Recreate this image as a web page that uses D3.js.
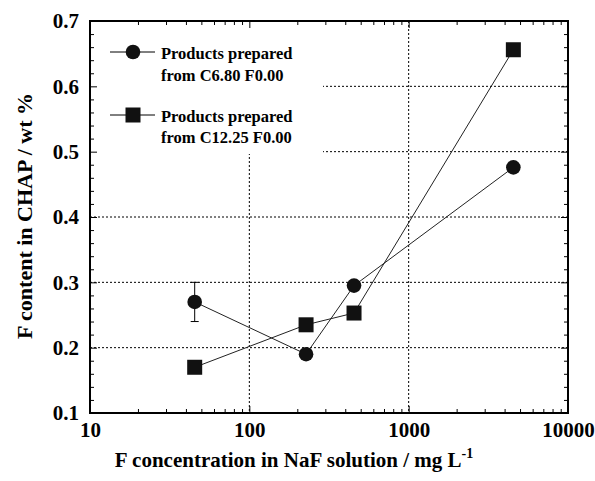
<!DOCTYPE html>
<html>
<head>
<meta charset="utf-8">
<script src="https://cdn.jsdelivr.net/npm/d3@7"></script>
<style>
  body { margin: 0; background: #fff; }
  svg { font-family: "Liberation Serif", "Times New Roman", serif; font-weight: bold; }
</style>
</head>
<body>
<div id="chart"></div>
<script>
// values
var concentrations = [45.4, 227, 454, 4540];
var seriesC680 = [0.27, 0.19, 0.295, 0.476];
var errC680 = [0.03, 0, 0, 0];
var seriesC1225 = [0.17, 0.235, 0.253, 0.656];
var xTicks = [10, 100, 1000, 10000];
var yTicks = [0.1, 0.2, 0.3, 0.4, 0.5, 0.6, 0.7];

var width = 595, height = 481;
var margin = {top: 21, right: 27, bottom: 68, left: 90};
var w = width - margin.left - margin.right,
    h = height - margin.top - margin.bottom;

var svg = d3.select("#chart").append("svg")
    .attr("width", width)
    .attr("height", height);

var g = svg.append("g")
    .attr("transform", "translate(" + margin.left + "," + margin.top + ")");

var xScale = d3.scaleLog().domain([10, 10000]).range([0, w]),
    yScale = d3.scaleLinear().domain([0.1, 0.7]).range([h, 0]);

// minor ticks
var xMinor = [];
[10, 100, 1000].forEach(function(d) {
  for (var k = 2; k <= 9; k++) xMinor.push(d * k);
});
var yMinor = d3.range(0.12, 0.7, 0.02).filter(function(v) {
  return Math.abs(v * 10 - Math.round(v * 10)) > 0.01;
});

// grid lines (dotted)
var grid = g.append("g").attr("class", "grid");
grid.selectAll(".gx")
    .data(xTicks.slice(1, -1))
  .enter().append("line")
    .attr("x1", function(d) { return xScale(d); })
    .attr("x2", function(d) { return xScale(d); })
    .attr("y1", 0).attr("y2", h)
    .attr("stroke", "#000").attr("stroke-width", 1)
    .attr("stroke-dasharray", "2,2");
grid.selectAll(".gy")
    .data(yTicks.slice(1, -1))
  .enter().append("line")
    .attr("x1", 0).attr("x2", w)
    .attr("y1", function(d) { return yScale(d); })
    .attr("y2", function(d) { return yScale(d); })
    .attr("stroke", "#000").attr("stroke-width", 1)
    .attr("stroke-dasharray", "2,2");

// legend background hides the grid
g.append("rect")
    .attr("x", 1).attr("y", 1)
    .attr("width", 232).attr("height", 132)
    .attr("fill", "#fff");

// axes
var xAxis = d3.axisBottom(xScale).tickValues(xTicks).tickSize(-7).tickFormat(d3.format("d")).tickPadding(9);
var yAxis = d3.axisLeft(yScale).tickValues(yTicks).tickSize(-7).tickFormat(d3.format(".1f")).tickPadding(11);

function styleAxis(sel) {
  sel.select(".domain").remove();
  sel.selectAll("line").attr("stroke", "#000").attr("stroke-width", 1);
  sel.selectAll("text").attr("font-size", 21).attr("font-weight", "bold")
     .attr("font-family", "Liberation Serif, Times New Roman, serif").attr("fill", "#000");
}

g.append("g").attr("transform", "translate(0," + h + ")").call(xAxis).call(styleAxis);
g.append("g").call(yAxis).call(styleAxis);
g.append("g").call(d3.axisTop(xScale).tickValues(xTicks).tickSize(-7).tickFormat("")).call(styleAxis);
g.append("g").attr("transform", "translate(" + w + ",0)")
    .call(d3.axisRight(yScale).tickValues(yTicks).tickSize(-7).tickFormat("")).call(styleAxis);

// minor ticks on all four sides
g.append("g").attr("transform", "translate(0," + h + ")")
    .call(d3.axisBottom(xScale).tickValues(xMinor).tickSize(-4).tickFormat("")).call(styleAxis);
g.append("g")
    .call(d3.axisTop(xScale).tickValues(xMinor).tickSize(-4).tickFormat("")).call(styleAxis);
g.append("g")
    .call(d3.axisLeft(yScale).tickValues(yMinor).tickSize(-4).tickFormat("")).call(styleAxis);
g.append("g").attr("transform", "translate(" + w + ",0)")
    .call(d3.axisRight(yScale).tickValues(yMinor).tickSize(-4).tickFormat("")).call(styleAxis);

// frame
g.append("rect")
    .attr("width", w).attr("height", h)
    .attr("fill", "none").attr("stroke", "#000").attr("stroke-width", 2);

// data
var dataC680 = concentrations.map(function(c, i) { return {x: c, y: seriesC680[i], e: errC680[i]}; });
var dataC1225 = concentrations.map(function(c, i) { return {x: c, y: seriesC1225[i]}; });

var line = d3.line()
    .x(function(d) { return xScale(d.x); })
    .y(function(d) { return yScale(d.y); });

g.append("path").datum(dataC680).attr("d", line)
    .attr("fill", "none").attr("stroke", "#222").attr("stroke-width", 1);
g.append("path").datum(dataC1225).attr("d", line)
    .attr("fill", "none").attr("stroke", "#222").attr("stroke-width", 1);

// error bars
var eb = g.selectAll(".err")
    .data(dataC680.filter(function(d) { return d.e > 0; }))
  .enter().append("g");
eb.append("line")
    .attr("x1", function(d) { return xScale(d.x); })
    .attr("x2", function(d) { return xScale(d.x); })
    .attr("y1", function(d) { return yScale(d.y - d.e); })
    .attr("y2", function(d) { return yScale(d.y + d.e); })
    .attr("stroke", "#000");
[-1, 1].forEach(function(s) {
  eb.append("line")
    .attr("x1", function(d) { return xScale(d.x) - 4; })
    .attr("x2", function(d) { return xScale(d.x) + 4; })
    .attr("y1", function(d) { return yScale(d.y + s * d.e); })
    .attr("y2", function(d) { return yScale(d.y + s * d.e); })
    .attr("stroke", "#000");
});

g.selectAll(".dot")
    .data(dataC680)
  .enter().append("circle")
    .attr("cx", function(d) { return xScale(d.x); })
    .attr("cy", function(d) { return yScale(d.y); })
    .attr("r", 7.3)
    .attr("fill", "#111");

var sq = 15;
g.selectAll(".sq")
    .data(dataC1225)
  .enter().append("rect")
    .attr("x", function(d) { return xScale(d.x) - sq / 2; })
    .attr("y", function(d) { return yScale(d.y) - sq / 2; })
    .attr("width", sq).attr("height", sq)
    .attr("fill", "#111");

// legend
var legend = g.append("g").attr("transform", "translate(20,31)");
legend.append("line").attr("x1", 0).attr("x2", 45).attr("y1", 0).attr("y2", 0).attr("stroke", "#000");
legend.append("circle").attr("cx", 23).attr("cy", 0).attr("r", 7.3).attr("fill", "#111");
legend.append("text").attr("x", 51).attr("y", 7).attr("font-size", 16.5).text("Products prepared");
legend.append("text").attr("x", 51).attr("y", 29).attr("font-size", 16.5).text("from C6.80 F0.00");

legend.append("line").attr("x1", 0).attr("x2", 45).attr("y1", 63).attr("y2", 63).attr("stroke", "#000");
legend.append("rect").attr("x", 23 - sq / 2).attr("y", 63 - sq / 2).attr("width", sq).attr("height", sq).attr("fill", "#111");
legend.append("text").attr("x", 51).attr("y", 70).attr("font-size", 16.5).text("Products prepared");
legend.append("text").attr("x", 51).attr("y", 91).attr("font-size", 16.5).text("from C12.25 F0.00");

// axis titles
var xt = svg.append("text")
    .attr("x", 294).attr("y", 467)
    .attr("text-anchor", "middle").attr("font-size", 21);
xt.append("tspan").text("F concentration in NaF solution / mg L");
xt.append("tspan").attr("font-size", 14).attr("dy", -9).text("-1");

svg.append("text")
    .attr("transform", "translate(32,216) rotate(-90)")
    .attr("text-anchor", "middle").attr("font-size", 22)
    .text("F content in CHAP / wt %");
</script>
</body>
</html>
